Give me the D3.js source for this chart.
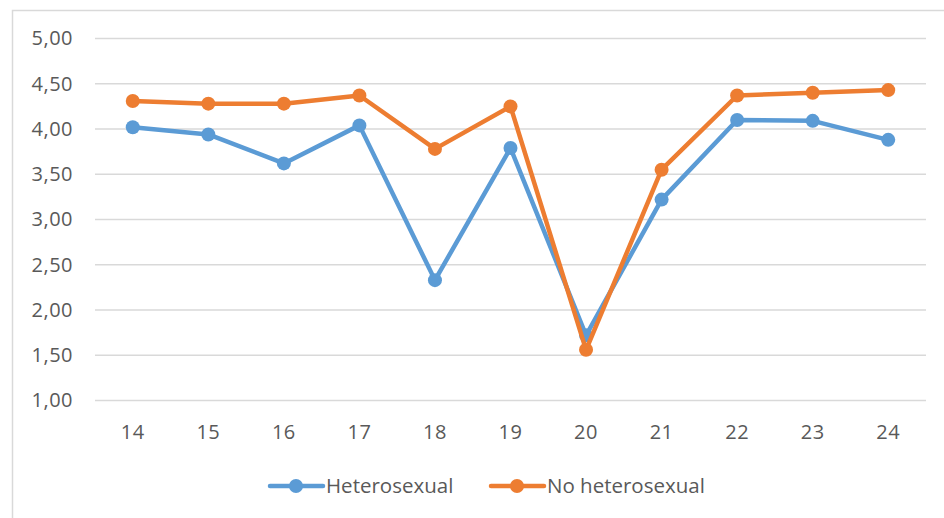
<!DOCTYPE html>
<html>
<head>
<meta charset="utf-8">
<script src="https://cdn.jsdelivr.net/npm/d3@7"></script>
<style>
  html, body { margin: 0; padding: 0; background: #fff; }
  svg { display: block; font-family: "Open Sans", "Liberation Sans", sans-serif; }
</style>
</head>
<body>
<svg id="chart" width="944" height="518"></svg>
<script>
// Ages on the horizontal axis
const ages = ["14", "15", "16", "17", "18", "19", "20", "21", "22", "23", "24"];
// Mean scores per group
const heterosexual = [4.02, 3.94, 3.62, 4.04, 2.33, 3.79, 1.72, 3.22, 4.10, 4.09, 3.88];
const noHeterosexual = [4.31, 4.28, 4.28, 4.37, 3.78, 4.25, 1.56, 3.55, 4.37, 4.40, 4.43];
const yTicks = [1.0, 1.5, 2.0, 2.5, 3.0, 3.5, 4.0, 4.5, 5.0];
const seriesNames = ["Heterosexual", "No heterosexual"];
const seriesColors = ["#5B9BD5", "#ED7D31"];

const svg = d3.select("#chart");
const plotLeft = 95, plotRight = 926, plotTop = 38.5, plotBottom = 400.5;

// Outer chart frame
svg.append("rect")
  .attr("x", 12.5).attr("y", 10.5)
  .attr("width", 1000).attr("height", 1000)
  .attr("fill", "none").attr("stroke", "#d9d9d9").attr("stroke-width", 1.5);

const x = d3.scaleBand().domain(ages).range([plotLeft, plotRight]);
const y = d3.scaleLinear().domain([1, 5]).range([plotBottom, plotTop]);

// Horizontal gridlines
svg.append("g").selectAll("line").data(yTicks).join("line")
  .attr("x1", plotLeft).attr("x2", plotRight)
  .attr("y1", d => y(d)).attr("y2", d => y(d))
  .attr("stroke", "#d9d9d9").attr("stroke-width", 1.5);

const fmt = d => d3.format(".2f")(d).replace(".", ",");

// Y axis labels
const yAxis = svg.append("g")
  .attr("transform", `translate(${plotLeft - 22},0)`)
  .call(d3.axisLeft(y).tickValues(yTicks).tickFormat(fmt).tickSize(0).tickPadding(0));
yAxis.select(".domain").remove();
yAxis.selectAll("text")
  .attr("fill", "#595959").style("font-size", "20px").style("letter-spacing", "0.5px")
  .style("font-family", "'Open Sans', 'Liberation Sans', sans-serif");

// X axis labels
const xAxis = svg.append("g")
  .attr("transform", `translate(0,${plotBottom + 24})`)
  .call(d3.axisBottom(x).tickSize(0).tickPadding(0));
xAxis.select(".domain").remove();
xAxis.selectAll("text")
  .attr("fill", "#595959").style("font-size", "20px").style("letter-spacing", "0.5px")
  .style("font-family", "'Open Sans', 'Liberation Sans', sans-serif");

const cx = d => x(d) + x.bandwidth() / 2;
const line = d3.line().x(d => cx(d.age)).y(d => y(d.v));

const series = [heterosexual, noHeterosexual].map((vals, i) => ({
  name: seriesNames[i],
  color: seriesColors[i],
  points: vals.map((v, j) => ({ age: ages[j], v }))
}));

series.forEach(s => {
  const g = svg.append("g");
  g.append("path")
    .attr("d", line(s.points))
    .attr("fill", "none").attr("stroke", s.color)
    .attr("stroke-width", 4.5).attr("stroke-linejoin", "round").attr("stroke-linecap", "round");
  g.selectAll("circle").data(s.points).join("circle")
    .attr("cx", d => cx(d.age)).attr("cy", d => y(d.v))
    .attr("r", 7).attr("fill", s.color);
});

// Legend
const legendX = [268, 489];
const legend = svg.append("g");
series.forEach((s, i) => {
  const g = legend.append("g").attr("transform", `translate(${legendX[i]},486)`);
  g.append("line").attr("x1", 2).attr("x2", 55).attr("y1", 0).attr("y2", 0)
    .attr("stroke", s.color).attr("stroke-width", 4.5).attr("stroke-linecap", "round");
  g.append("circle").attr("cx", 28).attr("cy", 0).attr("r", 7).attr("fill", s.color);
  g.append("text").attr("x", 58).attr("y", 0).attr("dy", "0.36em")
    .attr("fill", "#595959").style("font-size", "20.5px")
    .text(s.name);
});
</script>
</body>
</html>
